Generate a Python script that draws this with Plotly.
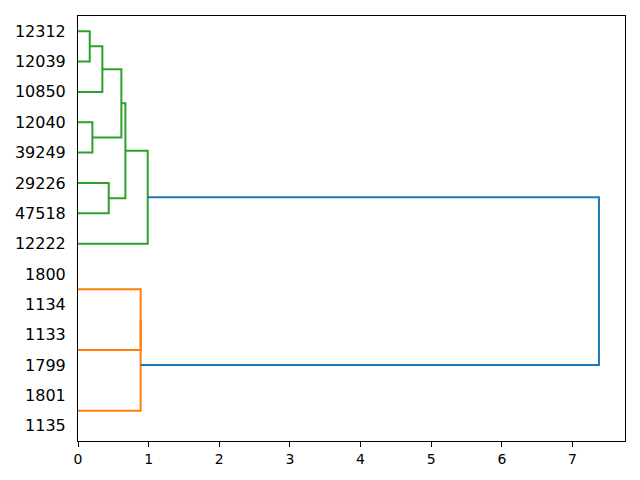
import plotly.graph_objects as go

# Leaves, bottom to top
leaf_labels = ["1135", "1801", "1799", "1133", "1134", "1800", "12222",
               "47518", "29226", "39249", "12040", "10850", "12039", "12312"]

# Merges: child a, child b (leaf index or earlier merge id = n + k), distance
merge_a = [5, 3, 1, 14, 17, 13, 19, 10, 20, 8, 22, 24, 25]
merge_b = [4, 2, 0, 15, 16, 12, 11, 9, 21, 7, 23, 6, 18]
merge_dist = [0.0, 0.0, 0.0, 0.887, 0.887, 0.166, 0.345, 0.204, 0.614,
              0.435, 0.671, 0.987, 7.375]
merge_group = ["C1", "C1", "C1", "C1", "C1", "C2", "C2", "C2", "C2",
               "C2", "C2", "C2", "C0"]

group_colors = {"C0": "#1f77b4", "C1": "#ff7f0e", "C2": "#2ca02c"}

n = len(leaf_labels)
pos = {i: 5 + 10 * i for i in range(n)}
height = {i: 0.0 for i in range(n)}

fig = go.Figure()
for k, (a, b, d, g) in enumerate(zip(merge_a, merge_b, merge_dist, merge_group)):
    ya, yb = pos[a], pos[b]
    xa, xb = height[a], height[b]
    pos[n + k] = (ya + yb) / 2
    height[n + k] = d
    if d == 0:
        continue  # zero-height link lies under the left spine
    fig.add_trace(go.Scatter(
        x=[xa, d, d, xb], y=[ya, ya, yb, yb], mode="lines",
        line=dict(color=group_colors[g], width=2),
        showlegend=False, hoverinfo="skip"))

xmax = max(merge_dist) * 1.05
fig.update_layout(
    width=624, height=464,
    margin=dict(l=70, r=7, t=8, b=31, autoexpand=False),
    plot_bgcolor="white", paper_bgcolor="white",
    font=dict(family="DejaVu Sans", color="black"),
)
fig.update_xaxes(
    range=[0, xmax], tickvals=list(range(0, 8)), automargin=False,
    showgrid=False, zeroline=False, showline=True, mirror=True,
    linecolor="black", linewidth=1, ticks="outside", ticklen=5,
    tickcolor="black", tickfont=dict(size=14), layer="above traces",
)
fig.update_yaxes(
    range=[0, 10 * n], tickvals=[pos[i] for i in range(n)], ticktext=leaf_labels,
    automargin=False,
    showgrid=False, zeroline=False, showline=True, mirror=True,
    linecolor="black", linewidth=1, ticks="", ticklabelstandoff=8,
    tickfont=dict(size=16), layer="above traces",
)
fig.write_html("out.html")
